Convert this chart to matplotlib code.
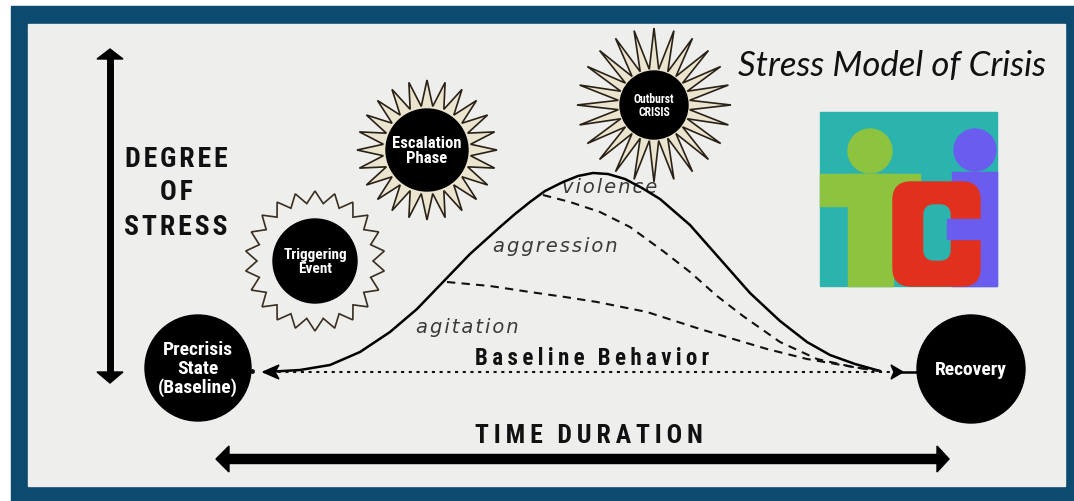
import numpy as np
import matplotlib
matplotlib.use("Agg")
import matplotlib.pyplot as plt
from matplotlib.patches import Rectangle, Circle, Polygon, FancyBboxPatch

# stages of the crisis (label, centre, radius in image pixels)
stage_labels = ["Precrisis\nState\n(Baseline)", "Triggering\nEvent", "Escalation\nPhase",
                "Outburst\nCRISIS", "Recovery"]
stage_x = [198, 315, 427, 654, 971]
stage_y = [369, 262, 151, 106, 370]
stage_r = [53, 42, 41, 34, 54]
stage_fs = [14, 11, 12, 8.5, 14]

# stress curve
stress_x = [265, 300, 330, 360, 390, 417, 443, 470, 500, 515, 530, 545, 563, 578, 593,
            608, 625, 642, 660, 690, 720, 750, 780, 807, 830, 855, 880]
stress_y = [373, 371, 366, 353, 333, 310, 283, 255, 228, 215, 203, 192, 183, 177, 174,
            175, 180, 189, 200, 226, 260, 294, 322, 343, 356, 365, 372]

# dashed boundaries (violence / aggression)
violence_x = [543, 570, 600, 630, 663, 690, 717, 743, 780, 817, 853, 880]
violence_y = [196, 203, 213, 228, 252, 273, 297, 317, 343, 360, 368, 372]
aggr_x = [447, 490, 530, 565, 597, 647, 700, 740, 767, 807, 853, 880]
aggr_y = [283, 287, 293, 298, 303, 313, 330, 342, 350, 360, 368, 372]

phase_labels = ["violence", "aggression", "agitation"]
phase_x = [610, 555, 467]
phase_y = [188, 247, 328]

BLUE = "#0c4a70"
BG = "#eeeeec"
narrow = ["Roboto Condensed", "Roboto", "DejaVu Sans"]
HAIR = "\u200a"
THIN = "\u2009"


def spaced(text, gap, word_gap):
    return word_gap.join(gap.join(w) for w in text.split(" "))


fig = plt.figure(figsize=(10.74, 5.02), dpi=100)
fig.patch.set_facecolor("white")
ax = fig.add_axes([0, 0, 1, 1])
ax.set_xlim(0, 1074)
ax.set_ylim(502, 0)
ax.axis("off")

# frame
ax.add_patch(Rectangle((11, 7), 1063, 495, color=BLUE, zorder=0))
ax.add_patch(Rectangle((28, 25), 1037, 462, color=BG, zorder=0))


def star(cx, cy, r_in, r_out, n, rot=0.0):
    ang = np.linspace(0, 2 * np.pi, 2 * n, endpoint=False) + rot
    rr = np.where(np.arange(2 * n) % 2 == 0, r_out, r_in)
    return np.column_stack([cx + rr * np.sin(ang), cy - rr * np.cos(ang)])


# star bursts around the middle three stages
ax.add_patch(Polygon(star(stage_x[1], stage_y[1], 58, 70, 22), closed=True,
                     fill=False, ec="#3a2e20", lw=1.2, zorder=2))
ax.add_patch(Polygon(star(stage_x[2], stage_y[2], 44, 70, 24), closed=True,
                     fc="#ebe4cf", ec="#2a2116", lw=1.2, zorder=2))
ax.add_patch(Polygon(star(stage_x[3], stage_y[3], 36, 77, 24), closed=True,
                     fc="#ebe4cf", ec="#2a2116", lw=1.2, zorder=2))

for lab, x, y, r, fs in zip(stage_labels, stage_x, stage_y, stage_r, stage_fs):
    ax.add_patch(Circle((x, y), r, color="black", zorder=3))
    ax.text(x, y, lab, color="white", fontsize=fs, fontweight="bold",
            family=narrow, ha="center", va="center", linespacing=1.05, zorder=4)

# phase labels (under the curve)
for lab, x, y in zip(phase_labels, phase_x, phase_y):
    ax.text(x, y, spaced(lab, HAIR, " "), fontsize=14, style="italic", color="#3c3a36",
            ha="center", va="center", zorder=1)

# curves
ax.plot(stress_x, stress_y, color="black", lw=1.8, zorder=2)
ax.plot(violence_x, violence_y, color="#111", lw=1.5, ls=(0, (4, 3)), zorder=2)
ax.plot(aggr_x, aggr_y, color="#111", lw=1.5, ls=(0, (4, 3)), zorder=2)

# baseline dotted with arrowheads
ax.plot([270, 890], [373, 373], color="#111", lw=1.5, ls=(0, (1.5, 2.2)), zorder=2)
ax.plot([252], [372], "o", color="#111", ms=2.5)
ax.add_patch(Polygon([[263, 373], [279, 366], [275, 373], [279, 380]], closed=True,
                     color="black", zorder=3))
ax.add_patch(Polygon([[903, 373], [891, 366], [894, 373], [891, 380]], closed=True,
                     color="black", zorder=3))
ax.plot([898, 918], [373, 373], color="black", lw=1.8, zorder=2)
ax.text(592, 359, spaced("Baseline Behavior", THIN, THIN * 3), fontsize=16.5,
        fontweight="bold", family=narrow, ha="center", va="center", color="#111")

# vertical double arrow (degree of stress)
ax.plot([110, 110], [58, 375], color="black", lw=5, solid_capstyle="butt")
ax.add_patch(Polygon([[110, 50], [97, 60], [123, 60]], closed=True, color="black"))
ax.add_patch(Polygon([[110, 384], [97, 373], [123, 373]], closed=True, color="black"))
for word, y in zip(["DEGREE", "OF", "STRESS"], [160, 193, 228]):
    ax.text(176, y, spaced(word, HAIR, " "), fontsize=20, fontweight="bold", family=narrow,
            ha="center", va="center", color="#111")

# horizontal double arrow (time)
ax.plot([228, 938], [460, 460], color="black", lw=7.5, solid_capstyle="butt")
ax.add_patch(Polygon([[216, 460], [229, 447], [229, 473]], closed=True, color="black"))
ax.add_patch(Polygon([[949, 460], [937, 447], [937, 473]], closed=True, color="black"))
ax.text(589, 436, spaced("TIME DURATION", THIN, THIN * 3), fontsize=18.5,
        fontweight="bold", family=narrow, ha="center", va="center", color="#111")

# title
ax.text(1046, 66, "Stress Model of Crisis", fontsize=25, style="italic",
        family=["Lato", "DejaVu Sans"], ha="right", va="center", color="#111")

# TCI logo
ax.add_patch(Rectangle((820, 113), 177, 174, color="#2bb3ad", zorder=1))
ax.add_patch(Circle((870, 152), 22, color="#8dc33f", zorder=2))
ax.add_patch(Circle((975, 151), 21, color="#6b5cf0", zorder=2))
ax.add_patch(Rectangle((820, 175), 100, 32, color="#8dc33f", zorder=2))
ax.add_patch(Rectangle((848, 175), 45, 112, color="#8dc33f", zorder=2))
ax.add_patch(Rectangle((952, 173), 45, 114, color="#6b5cf0", zorder=2))
ax.add_patch(FancyBboxPatch((903, 193), 67, 84, boxstyle="round,pad=10,rounding_size=18",
                            color="#e2301f", zorder=3))
ax.add_patch(FancyBboxPatch((927, 209), 20, 49, boxstyle="round,pad=3,rounding_size=10",
                            color="#2bb3ad", zorder=4))
ax.add_patch(Rectangle((947, 220), 34, 20, color="#6b5cf0", zorder=4))

fig.savefig("out.png", dpi=100, facecolor=fig.get_facecolor())
